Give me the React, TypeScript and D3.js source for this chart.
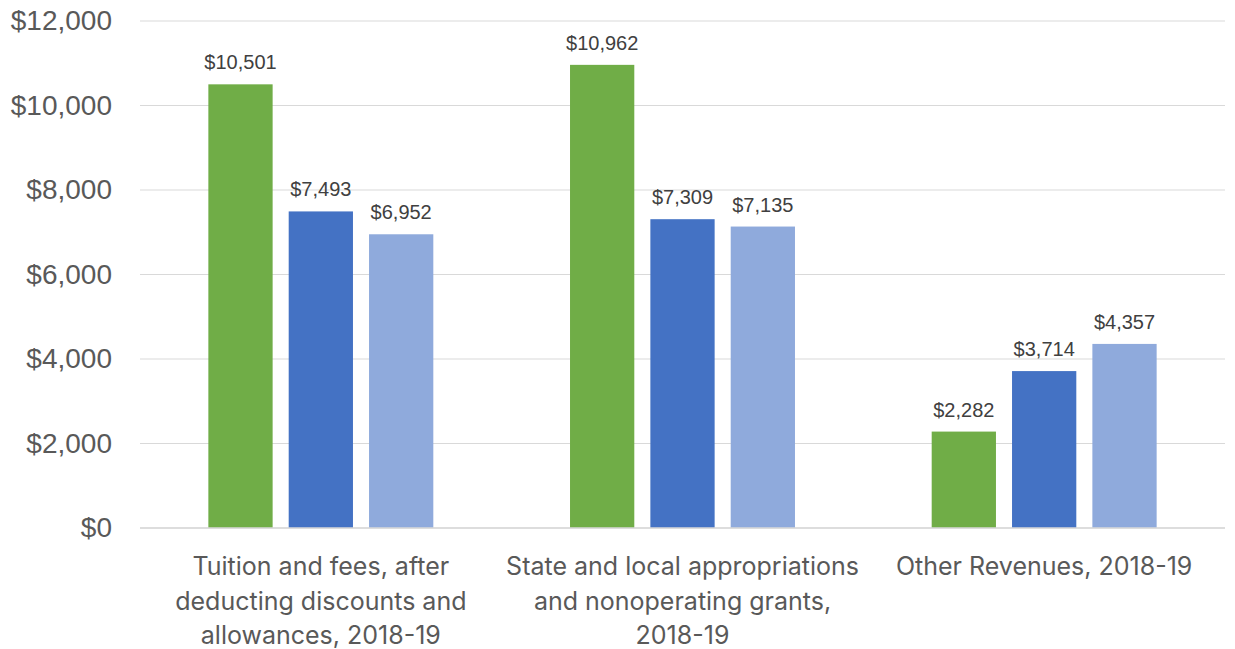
import React from "react";
import * as d3 from "d3";

const categories = [
  ["Tuition and fees, after", "deducting discounts and", "allowances, 2018-19"],
  ["State and local appropriations", "and nonoperating grants,", "2018-19"],
  ["Other Revenues, 2018-19"],
];
const seriesNames = ["Series A", "Series B", "Series C"];
const seriesA = [10501, 10962, 2282];
const seriesB = [7493, 7309, 3714];
const seriesC = [6952, 7135, 4357];
const yTicks = [0, 2000, 4000, 6000, 8000, 10000, 12000];
const colors = ["#70AD47", "#4472C4", "#8FAADC"];

const W = 1235;
const H = 649;
const left = 140;
const right = 1225;
const top = 21;
const bottom = 528;
const NUMFONT = "'Liberation Sans', Arial, sans-serif";
const CATFONT = "Inter, 'Noto Sans', sans-serif";

export default function App() {
  const series = [seriesA, seriesB, seriesC];
  const y = d3.scaleLinear().domain([0, 12000]).range([bottom, top]);
  const x0 = d3
    .scaleBand<number>()
    .domain(d3.range(categories.length))
    .range([left, right])
    .paddingInner(0.378)
    .paddingOuter(0.189);
  const x1 = d3
    .scaleBand<number>()
    .domain(d3.range(series.length))
    .range([0, x0.bandwidth()])
    .paddingInner(0.2)
    .paddingOuter(0);
  const fmt = (v: number) => "$" + d3.format(",")(v);

  return (
    <svg width={W} height={H} style={{ position: "absolute", left: 0, top: 0 }}>
      <rect width={W} height={H} fill="#fff" />
      {yTicks.map((t) => (
        <g key={t}>
          <line x1={left} x2={right} y1={y(t)} y2={y(t)} stroke="#D9D9D9" strokeWidth={1} />
          <text
            x={112}
            y={y(t) + 9}
            textAnchor="end"
            fontFamily={NUMFONT}
            fontSize={28}
            fill="#595959"
          >
            {fmt(t)}
          </text>
        </g>
      ))}
      {categories.map((cat, ci) => (
        <g key={ci} transform={`translate(${x0(ci)},0)`}>
          {series.map((s, si) => (
            <g key={si}>
              <rect
                x={x1(si)}
                y={y(s[ci])}
                width={x1.bandwidth()}
                height={y(0) - y(s[ci])}
                fill={colors[si]}
              />
              <text
                x={(x1(si) as number) + x1.bandwidth() / 2}
                y={y(s[ci]) - 15}
                textAnchor="middle"
                fontFamily={NUMFONT}
                fontSize={20}
                fill="#404040"
              >
                {fmt(s[ci])}
              </text>
            </g>
          ))}
          {cat.map((line, li) => (
            <text
              key={li}
              x={x0.bandwidth() / 2}
              y={575 + li * 34.5}
              textAnchor="middle"
              fontFamily={CATFONT}
              fontSize={25}
              fill="#595959"
            >
              {line}
            </text>
          ))}
        </g>
      ))}
      <line x1={left} x2={right} y1={bottom} y2={bottom} stroke="#D9D9D9" strokeWidth={1.5} />
    </svg>
  );
}
